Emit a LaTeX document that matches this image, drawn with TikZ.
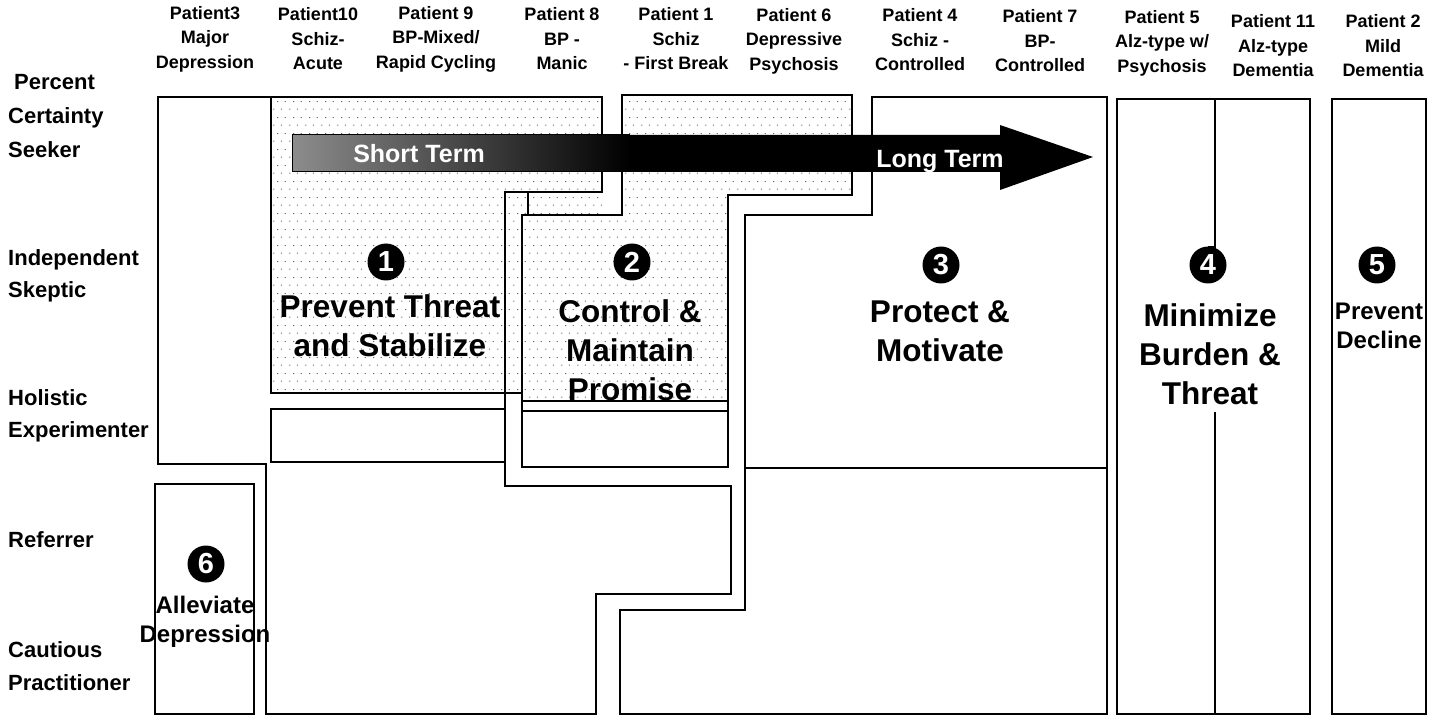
\documentclass[tikz,border=0pt]{standalone}
\usepackage{fontspec}
\setmainfont{Liberation Sans}
\usetikzlibrary{patterns.meta}

% sparse staggered dot screen used for the shaded strategy areas
\tikzdeclarepattern{
  name=sparsedots,
  type=uncolored,
  bounding box={(0pt,0pt) and (16pt,16pt)},
  tile size={(16pt,16pt)},
  code={
    \fill (2pt,2pt) circle (0.7pt);
    \fill (10pt,2pt) circle (0.7pt);
    \fill (6pt,10pt) circle (0.7pt);
    \fill (14pt,10pt) circle (0.7pt);
  }
}

\begin{document}
\begin{tikzpicture}[x=1pt,y=-1pt,
  thickline/.style={line width=2.8pt, line join=miter},
  thinline/.style={line width=1.1pt},
  hdr/.style={align=center, font=\fontsize{18}{24.5}\selectfont\bfseries, inner sep=0pt},
  rowlbl/.style={anchor=west, font=\fontsize{22}{24}\selectfont\bfseries, inner sep=0pt},
  biglbl/.style={align=center, font=\fontsize{31.5}{39}\selectfont\bfseries, inner sep=0pt},
  smalllbl/.style={align=center, font=\fontsize{24}{29}\selectfont\bfseries, inner sep=0pt},
  numcirc/.style={circle, fill=black, text=white, minimum size=37pt, inner sep=0pt,
                  font=\fontsize{29}{29}\selectfont\bfseries},
  stipple/.style={pattern=sparsedots, pattern color=black!65},
  arrowtxt/.style={text=white, font=\fontsize{25}{25}\selectfont\bfseries, inner sep=0pt}
]
\useasboundingbox (0,0) rectangle (1443,719);

% ---------- column headers ----------
\node[hdr] (p3)  at (205,39)  {Patient3\\Major\\Depression};
\node[hdr] (p10) at (318,39)  {Patient10\\Schiz-\\Acute};
\node[hdr] (p9)  at (436,39)  {Patient 9\\BP-Mixed/\\Rapid Cycling};
\node[hdr] (p8)  at (562,39)  {Patient 8\\BP -\\Manic};
\node[hdr] (p1)  at (676,39)  {Patient 1\\Schiz\\- First Break};
\node[hdr] (p6)  at (794,41)  {Patient 6\\Depressive\\Psychosis};
\node[hdr] (p4)  at (920,40)  {Patient 4\\Schiz -\\Controlled};
\node[hdr] (p7)  at (1040,41) {Patient 7\\BP-\\Controlled};
\node[hdr] (p5)  at (1162,43) {Patient 5\\Alz-type w/\\Psychosis};
\node[hdr] (p11) at (1273,46) {Patient 11\\Alz-type\\Dementia};
\node[hdr] (p2)  at (1383,46) {Patient 2\\Mild\\Dementia};

% ---------- row labels ----------
\node[rowlbl] (rpct) at (14,82)  {Percent};
\node[rowlbl] (rcs1) at (8,118)  {Certainty};
\node[rowlbl] (rcs2) at (8,150)  {Seeker};
\node[rowlbl] (ris1) at (8,260)  {Independent};
\node[rowlbl] (ris2) at (8,292)  {Skeptic};
\node[rowlbl] (rhe1) at (8,398)  {Holistic};
\node[rowlbl] (rhe2) at (8,432)  {Experimenter};
\node[rowlbl] (rref) at (8,540)  {Referrer};
\node[rowlbl] (rcp1) at (8,650)  {Cautious};
\node[rowlbl] (rcp2) at (8,683)  {Practitioner};

% ---------- dotted (short term) areas ----------
\fill[stipple] (270,97) -- (602,97) -- (602,215) -- (522,215) -- (522,393) -- (270,393) -- cycle;
\fill[stipple] (622,95) -- (852,95) -- (852,195) -- (728,195) -- (728,402)
               -- (522,402) -- (522,215) -- (622,215) -- cycle;

% ---------- strategy 1 ----------
\draw[thinline] (271,97) -- (271,393) -- (522,393);
\draw[thinline] (271,409) rectangle (505,462);
\draw[thinline] (528,192) -- (528,215);
\draw[thickline] (158,97) -- (602,97) -- (602,192) -- (505,192) -- (505,486)
                 -- (731,486) -- (731,594) -- (596,594) -- (596,714) -- (266,714)
                 -- (266,464) -- (158,464) -- cycle;

% ---------- strategy 2 ----------
\draw[thinline] (522,401) -- (728,401);
\draw[line width=1.6pt] (522,411) -- (728,411);
\draw[thickline] (622,95) -- (852,95) -- (852,195) -- (728,195) -- (728,467)
                 -- (522,467) -- (522,215) -- (622,215) -- cycle;

% ---------- strategy 3 ----------
\draw[thinline] (745,468) -- (1107,468);
\draw[thickline] (872,97) -- (1107,97) -- (1107,714) -- (620,714) -- (620,610)
                 -- (745,610) -- (745,215) -- (872,215) -- cycle;

% ---------- strategies 4, 5, 6 ----------
\draw[thickline] (1117,99) rectangle (1310,714);
\draw[thinline] (1215,99) -- (1215,247) -- (1208,247);
\draw[thinline] (1215,412) -- (1215,714);
\draw[thickline] (1332,99) rectangle (1426,714);
\draw[thickline] (155,484) rectangle (254,714);

% ---------- time arrow ----------
\fill[black] (292,135) -- (1000,135) -- (1000,125) -- (1093,157)
             -- (1000,190) -- (1000,172) -- (292,172) -- cycle;
\shade[left color=black!45, right color=black] (293,136) rectangle (630,171);
\draw[line width=1pt] (292,135) -- (630,135) (292,172) -- (630,172) (292,135) -- (292,172);
\node[arrowtxt] (st) at (419,154) {Short Term};
\node[arrowtxt] (lt) at (940,162) {Long Term};

% ---------- strategy labels ----------
\node[numcirc] (n1) at (386,262) {1};
\node[biglbl] (l1) at (390,326) {Prevent Threat\\and Stabilize};

\node[numcirc] (n2) at (632,262) {2};
\node[biglbl] (l2) at (630,350) {Control \&\\Maintain\\Promise};

\node[numcirc] (n3) at (941,265) {3};
\node[biglbl] (l3) at (940,331) {Protect \&\\Motivate};

\node[numcirc] (n4) at (1208,265) {4};
\node[biglbl] (l4) at (1210,354) {Minimize\\Burden \&\\Threat};

\node[numcirc] (n5) at (1377,265) {5};
\node[smalllbl] (l5) at (1379,326) {Prevent\\Decline};

\node[numcirc] (n6) at (206,564) {6};
\node[smalllbl] (l6) at (205,622) {Alleviate\\Depression};

\end{tikzpicture}
\end{document}
